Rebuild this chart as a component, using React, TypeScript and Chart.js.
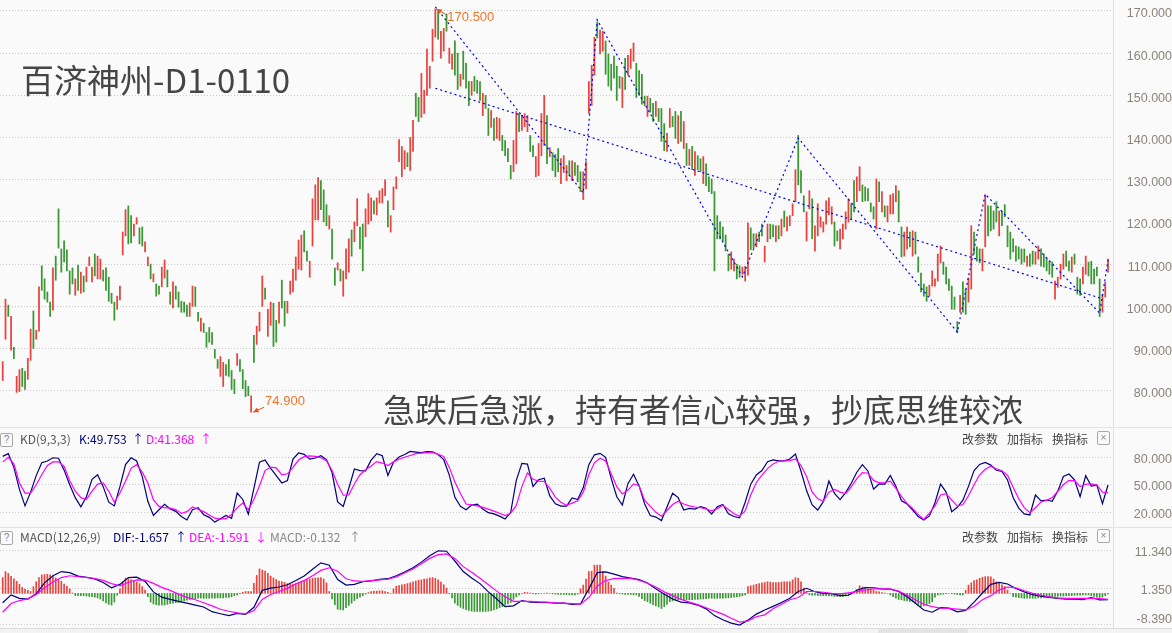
import React, { useEffect, useRef } from "react";
import { Chart, registerables } from "chart.js";
Chart.register(...registerables);

// ---------------- DATA ----------------
// daily candles: high / low / direction (R = up day, G = down day)
const candleHigh = [
  86.9,101.7,100.3,97.6,90.3,83.4,85.0,85.3,84.6,87.7,
  94.6,98.9,94.3,104.6,109.6,106.5,103.4,101.0,109.1,111.9,
  123.1,113.6,115.5,113.4,108.4,109.1,106.5,109.8,108.1,107.2,
  109.3,111.7,109.3,112.4,111.9,111.2,108.6,109.1,106.9,103.1,
  101.0,102.4,104.8,117.6,122.9,123.8,121.5,119.5,121.0,118.6,
  118.8,115.3,111.7,110.0,107.7,105.3,104.8,109.3,111.0,108.6,
  103.4,105.8,104.8,103.4,101.2,101.0,100.3,100.8,104.8,104.6,
  98.6,97.2,96.0,93.8,95.0,93.8,89.8,87.4,88.1,86.7,
  86.2,87.4,84.8,82.7,88.8,87.4,85.0,82.4,81.0,78.8,
  93.1,95.3,98.6,107.2,104.3,99.3,101.0,100.7,96.7,101.0,
  106.2,101.2,101.2,106.0,108.8,111.7,115.7,116.9,117.9,113.1,
  110.7,125.5,128.8,130.5,129.8,127.6,124.1,121.5,118.3,109.1,
  110.3,108.8,108.4,113.6,116.0,118.1,120.0,125.5,118.8,119.5,
  123.1,126.7,125.7,125.0,125.7,127.4,127.9,130.0,125.0,121.5,
  128.3,130.7,139.5,137.9,136.9,136.4,140.0,144.1,150.5,149.5,
  155.2,151.2,161.0,156.9,165.7,170.5,170.2,165.2,165.9,169.3,
  161.2,159.8,162.9,160.0,155.0,160.5,157.6,153.3,153.3,154.5,
  153.6,153.3,150.5,150.0,146.9,146.4,144.5,144.8,144.5,140.5,
  139.3,137.4,133.4,139.3,146.2,145.7,145.2,145.7,145.2,140.5,
  138.1,135.5,138.6,145.7,150.0,145.2,137.6,136.4,136.0,137.4,
  135.0,135.7,133.4,134.5,134.5,134.1,133.4,131.9,131.9,134.3,
  153.3,157.1,163.8,167.4,165.5,165.2,162.9,159.8,157.4,159.3,
  156.9,154.5,154.3,158.8,159.5,161.0,162.4,157.6,155.9,155.0,
  149.8,149.8,149.3,148.1,148.6,146.9,146.9,143.3,141.0,146.9,
  145.0,146.2,145.2,146.2,143.8,138.6,137.2,137.9,136.7,135.7,
  135.0,135.5,133.8,130.7,130.2,127.2,121.5,120.0,118.8,116.9,
  112.4,112.9,111.2,110.0,109.6,109.3,109.5,119.8,118.6,117.2,
  117.2,117.6,119.5,114.3,119.5,119.5,119.3,119.1,119.1,120.7,
  122.6,121.2,121.5,124.3,132.4,140.5,132.2,126.2,122.4,127.4,
  125.5,119.1,124.3,121.2,120.0,125.0,125.7,123.6,120.0,117.9,
  118.3,119.5,122.4,125.5,124.3,129.8,130.7,133.1,128.8,128.3,
  127.9,124.5,123.6,130.2,129.5,127.2,123.8,123.8,126.4,126.7,
  128.6,127.4,118.8,117.6,118.8,117.6,117.9,117.6,111.7,107.9,
  105.3,104.6,105.0,108.4,106.5,112.4,114.3,110.5,109.3,106.5,
  104.8,102.2,96.4,102.6,105.8,104.1,106.7,119.1,117.6,114.1,
  113.6,113.6,126.4,123.8,123.8,122.6,124.8,122.6,122.6,124.1,
  119.1,117.6,116.0,114.3,114.1,113.6,113.6,111.9,112.4,113.1,
  112.9,114.3,113.6,112.4,111.5,110.7,110.5,106.0,106.9,110.0,
  112.4,113.1,110.7,111.7,112.4,106.9,106.5,109.3,111.9,110.5,
  110.7,108.8,109.3,106.5,102.9,105.8,111.2
];
const candleLow = [
  82.4,92.2,97.6,89.6,87.6,79.6,79.8,81.0,80.3,82.7,
  87.2,90.0,92.2,94.1,103.8,101.7,101.0,97.6,99.1,106.2,
  113.8,108.1,110.5,108.4,102.9,105.3,102.6,103.8,103.1,103.4,
  105.8,109.6,105.8,107.2,106.5,106.5,106.0,103.8,101.2,100.7,
  96.7,99.3,101.5,112.2,116.7,114.8,115.0,116.7,119.5,114.8,
  114.3,112.9,109.6,106.5,105.8,102.4,102.9,104.6,106.7,104.6,
  100.5,99.6,101.7,99.8,98.6,98.6,97.6,97.6,100.0,100.0,
  96.5,94.1,93.8,90.3,91.5,91.0,87.7,85.3,83.4,81.0,
  83.6,83.4,80.3,79.3,86.0,84.6,80.5,78.6,78.8,74.9,
  86.7,91.0,94.1,100.0,101.7,92.9,95.5,90.5,91.5,96.0,
  99.6,95.3,98.4,102.9,103.4,106.2,108.8,108.6,112.9,110.7,
  106.9,114.3,120.5,120.5,122.9,120.0,119.1,118.3,111.2,105.0,
  108.6,106.0,102.4,106.5,108.1,111.9,115.3,119.1,113.6,108.4,
  116.5,119.5,120.3,121.9,121.7,124.5,124.5,126.2,118.8,117.6,
  122.9,127.9,134.3,130.7,132.6,133.1,132.2,136.7,145.0,143.8,
  144.8,145.7,150.0,151.7,158.1,163.8,163.3,158.8,160.5,165.2,
  157.6,156.2,154.8,151.4,152.2,153.8,151.7,147.6,150.0,151.0,
  150.5,148.8,145.2,146.9,140.5,142.4,139.3,139.8,139.3,136.9,
  135.7,134.3,130.2,131.9,133.8,141.4,141.7,142.6,141.4,136.7,
  135.5,130.7,131.0,135.7,138.1,133.8,135.5,132.2,130.7,131.9,
  129.1,131.7,129.8,131.0,129.8,131.0,129.5,127.2,125.3,127.9,
  145.7,147.6,154.8,163.6,159.8,160.5,155.0,152.2,151.2,154.1,
  148.8,151.7,147.1,151.4,154.8,156.4,158.1,149.5,150.0,147.9,
  147.6,145.0,146.0,143.8,145.0,143.8,139.1,136.9,136.7,142.4,
  142.6,139.8,138.6,139.1,137.4,133.4,133.4,132.4,131.0,132.4,
  131.9,129.1,128.6,127.2,126.7,108.4,116.0,116.0,115.5,113.1,
  108.4,108.8,108.4,106.5,106.9,107.6,106.0,107.4,113.4,113.8,
  114.1,115.3,116.7,110.5,115.3,116.0,116.5,115.3,116.0,116.7,
  118.8,117.9,119.1,121.5,124.8,128.8,126.9,122.4,115.5,123.1,
  116.0,113.1,116.7,118.8,117.6,119.5,121.7,119.5,114.3,115.5,
  113.6,116.0,118.3,120.0,120.7,122.4,124.8,127.4,124.8,125.0,
  125.0,122.4,120.7,118.3,124.8,122.4,121.2,120.0,121.9,121.9,
  124.8,120.0,111.7,111.9,113.6,114.1,111.9,112.4,108.1,103.4,
  102.4,101.2,102.4,104.8,104.8,106.0,110.3,107.6,105.3,103.8,
  99.3,99.3,93.8,98.6,98.6,98.1,101.0,104.1,112.4,110.7,
  110.3,108.4,114.1,116.7,117.9,118.3,120.0,116.7,119.1,121.2,
  114.1,111.2,112.9,110.7,111.2,110.0,110.5,109.5,109.5,110.0,
  110.0,111.2,109.5,109.3,108.4,107.6,106.9,101.7,104.5,106.5,
  108.8,109.5,108.4,108.1,110.0,102.9,102.6,105.3,107.6,107.2,
  105.3,105.3,107.2,97.6,98.6,102.2,108.1
];
const candleDir =
  "RRGRGRRGGR" + "RGRRGGGGRG" + "GGGGGGRGRG" + "RRRGRRGGGG" + "GRRRRGGRRG" +
  "GRRGRGGRRG" + "GRGGGGGRRG" + "GRGGGGGGRR" + "GGGGRGGGGR" + "GRRRGRRGGR" +
  "GGRRRRRRGG" + "RRRRGGGRGG" + "RGRRRGRRGG" + "RRRGRRRRGR" + "RRRRRGRRGG" +
  "RRRRRRGRRG" + "RRGGRGGGRG" + "GGRGGRGRRG" + "GGGRRGRRRG" + "GRRRRGRGGG" +
  "RRRGRGGGRR" + "RRRGRRGGGG" + "GGRGRRRGGG" + "GRGGRGGGRR" + "GGRGRGRGRG" +
  "GRGGGGGGGG" + "GRRGGRRRGG" + "RGGRRGGRGR" + "GRRRRGGGRR" + "GRRRRRRRGG" +
  "RRRRGGRRGG" + "GGGRGRGRRR" + "RGGRRGRGGG" + "GGRRRRRGGG" + "GGGRGGRRGG" +
  "GRRGGGGRGG" + "GGGGGGGRGG" + "RRGGGGGRRR" + "RGGRGGGRRG" + "GGGGRRR";

// KD(9,3,3): K and D, one reading every 2 days
const kValues = [
  81,84,69,45,27,42,60,74,76,79.5,
  79,66,50,36,26,37,56,61,48,31,
  27,48,72,79.5,76,59,32,16.5,22.8,28.7,
  23.7,21,15.5,11.6,22.8,25,17.4,14.5,9.3,13,
  16.5,13.4,40.9,34,18,46,74.7,77,68,60,
  52,54.7,78,84.7,83.2,78,79.2,81.7,77.5,63.4,
  31.4,26.3,46.2,67.2,65.5,65.3,76.9,84,81.7,60.2,
  74.7,80.3,83,86.4,85.7,85.1,86.1,86,83.1,77.4,
  60.6,36.3,26.5,22.8,27.9,29,23.6,19.6,18.2,15.8,
  12.7,20,54.9,73.4,72.6,48.3,55.5,57.2,37.9,29.2,
  26.7,26.8,35.7,34,47,72,82.7,84.3,80,57,
  37,28,51.2,61.5,48.8,29,16.4,14.8,11,25.8,
  40.8,36,22.5,24.3,23.5,26.2,24.3,18,26,28.6,
  18.4,15.4,14,31,50.7,60.7,65.5,75.2,77.1,76,
  76.2,78.2,83.6,64.8,43.7,28,22.5,31.6,54,40.7,
  33.9,41.5,51.6,63.7,71.9,64.8,45.3,50.9,50.8,60.3,
  48.3,32.6,29,22.5,15.3,11.5,16.1,30.4,50.8,42,
  20.7,25.5,33.3,48.3,65.6,72.2,74.4,71.5,65.8,64.5,
  55.2,36.1,24.6,18.2,17.1,38.9,32.4,33.4,32,43.1,
  59,61.7,55.5,37.1,60,48.6,49.7,29.5,49.8
];
const dValues = [
  75,80,73,52,41,41,50,61,71,75,
  75,70,54.5,43,36,34,43,50.7,52,43,
  31,41,54,68,72,64,52,33.5,26.5,25,
  24.6,23,18.8,20.7,25.8,23.3,20.7,17,13.6,12.6,
  13,17.5,25,30,23,34,49,65.5,69.3,68.5,
  60.8,62,69,77,80.7,81.5,81,79.5,76.4,65.6,
  50.5,38.6,39,50.8,61,66.4,70.5,75.3,73.7,71,
  75,77.9,80.1,82,84,84.6,85,85.4,83.2,80.9,
  69,53,40.5,29,28,27,25.4,23.5,21.3,19,
  16.4,19,27.5,48,63,56,54,53.6,46,36.5,
  31,27.7,30,32.5,42,61,74,78.9,76,62,
  48,40,44,51,49,33,26.5,20,15.6,22,
  28.5,32,29,27,25.8,25,23.6,21.5,24,27.6,
  23,18.5,15.7,21.5,39,52.5,60.5,67.6,72.8,75.7,
  76,76.3,78.3,71,59,42,34.7,32,42,45,
  42,40.5,47.7,56.7,63.3,62.6,54.8,52.2,52.5,54,
  46,37.4,29.4,24.2,17.5,12.2,19,27,38.9,40.3,
  33.2,26.7,28.5,38,50,60.9,67,70.3,67.5,65.3,
  60.4,47.3,34.7,25.1,19.5,25,31.3,33,36,42.8,
  50,54.8,54.5,48.2,50.6,50.9,49.8,42,41.4
];

// MACD(12,26,9): DIF and DEA, one reading every 3 days
const difValues = [
  -2.5,-0.4,-1.3,-1.5,-0.1,2.8,4.7,5.8,5.5,4.6,
  4.25,3.85,2.9,1.5,2.4,4.2,4.3,3.2,0.4,-1.0,
  -1.6,-2.1,-2.6,-3.1,-3.6,-4.85,-5.4,-5.9,-5.3,-5.55,
  -3.7,0.8,1.4,1.7,2.3,3.4,4.6,6.4,8.1,7.5,
  3.7,2.2,2.4,3.1,3.3,3.7,3.9,4.7,5.7,6.8,
  8.3,10.0,11.3,11.2,8.6,5.8,4.1,2.6,0.4,-1.5,
  -3.5,-3.3,-1.9,-2.3,-2.4,-2.4,-2.6,-2.6,-2.9,-2.8,
  1.2,5.5,5.7,5.1,4.45,4.05,3.65,2.75,1.25,-0.2,
  -1.5,-2.3,-2.5,-3.1,-4.1,-5.9,-7.0,-7.9,-8.4,-7.1,
  -5.5,-4.4,-3.45,-2.4,-1.3,0.5,1.35,0.45,0.0,-0.1,
  -0.6,-0.5,0.85,1.55,1.5,1.2,1.1,0.5,-0.9,-2.6,
  -4.4,-5.0,-3.8,-3.9,-4.9,-4.5,-2.3,0.1,2.4,2.9,
  2.5,1.3,0.4,-0.35,-0.75,-1.05,-1.35,-1.5,-1.5,-1.65,
  -1.1,-1.7,-1.66
];
const deaValues = [
  -5.0,-2.7,-1.9,-1.45,-0.3,1.5,3.0,4.2,4.68,4.42,
  4.25,3.95,3.45,2.6,2.0,2.9,3.6,3.5,2.65,1.6,
  0.8,-0.2,-1.05,-1.7,-2.5,-3.3,-4.2,-4.75,-5.15,-5.45,
  -4.6,-1.6,-0.3,0.5,1.4,2.5,3.4,4.7,6.1,6.8,
  5.9,3.9,3.3,3.2,3.4,3.6,3.75,4.4,5.4,6.5,
  7.9,9.3,10.3,10.5,9.3,7.1,5.6,4.0,2.3,0.6,
  -0.9,-2.1,-2.1,-2.1,-2.25,-2.35,-2.5,-2.6,-2.7,-2.85,
  -1.1,1.9,3.4,3.9,4.0,4.0,3.5,2.7,1.7,0.4,
  -0.6,-1.6,-2.3,-3.0,-3.8,-4.7,-5.5,-6.6,-7.6,-7.3,
  -6.2,-5.7,-4.1,-2.9,-1.7,-1.1,0.5,0.5,0.3,0.0,
  -0.15,0.15,0.45,0.9,1.2,1.2,1.2,0.6,-0.5,-1.7,
  -2.9,-3.5,-3.9,-4.0,-4.2,-4.4,-3.4,-1.7,-0.6,0.95,
  1.7,1.45,0.7,0.03,-0.5,-0.95,-1.2,-1.3,-1.3,-1.3,
  -1.3,-1.4,-1.59
];
// MACD histogram, one bar per day
const macdHist = [
  4.2,5.8,5.3,4.5,3.9,3.2,2.4,1.6,1.1,0.8,
  0.5,1.8,3.1,4.2,4.9,5.0,5.1,4.9,4.5,4.1,
  3.7,3.2,2.5,1.9,1.2,0.1,-0.6,-0.6,-0.6,-0.6,
  -0.7,-0.8,-0.9,-1.0,-1.2,-1.5,-2.0,-2.5,-2.9,-3.1,
  -2.3,-0.5,1.2,3.1,4.0,3.9,3.7,3.5,3.0,2.6,
  1.8,0.9,-0.9,-2.3,-2.8,-3.0,-3.1,-3.1,-3.1,-2.9,
  -2.7,-2.6,-2.5,-2.4,-2.2,-2.0,-1.8,-1.6,-1.5,-1.4,
  -1.3,-1.3,-1.3,-1.3,-1.3,-1.3,-1.3,-1.2,-1.2,-1.2,
  -1.1,-1.1,-0.9,-0.6,-0.4,-0.1,0.3,0.5,0.5,0.5,
  2.7,4.8,6.5,6.2,5.9,5.3,4.6,4.1,3.7,3.3,
  3.1,2.9,2.6,2.4,2.5,2.7,3.0,3.3,3.5,3.7,
  3.8,4.0,4.1,4.1,4.2,3.8,2.8,0.5,-1.5,-3.0,
  -4.2,-4.3,-4.4,-3.8,-3.2,-2.6,-1.9,-1.4,-1.0,-0.6,
  -0.2,0.2,0.5,0.6,0.6,0.7,0.7,0.5,0.3,0.0,
  1.2,1.9,2.1,2.3,2.4,2.6,2.8,3.1,3.3,3.5,
  3.6,3.8,3.9,4.1,4.2,4.0,3.6,3.0,2.3,1.4,
  -0.1,-1.2,-2.6,-3.2,-3.7,-4.0,-4.3,-4.5,-4.7,-4.8,
  -4.8,-4.8,-4.8,-4.8,-4.7,-4.6,-4.4,-4.1,-3.8,-3.5,
  -3.1,-2.8,-2.4,-1.6,-0.9,-0.4,0.0,0.3,0.2,0.1,
  -0.1,-0.2,-0.1,0.0,0.0,0.1,0.0,-0.1,-0.2,-0.3,
  -0.3,-0.3,-0.3,-0.4,-0.4,-0.4,-0.2,1.2,2.2,3.8,
  5.8,5.9,7.5,7.5,7.5,5.8,4.6,3.0,2.2,1.35,
  0.1,-0.1,-0.2,-0.3,-0.3,-0.3,-0.4,-0.4,-0.8,-1.4,
  -1.9,-2.2,-2.6,-3.0,-3.3,-3.6,-4.0,-3.5,-2.9,-2.2,
  -2.0,-1.8,-1.7,-1.7,-1.7,-1.7,-1.7,-1.7,-1.6,-1.6,
  -1.5,-1.5,-1.4,-1.3,-1.3,-1.3,-1.3,-1.3,-1.3,-1.2,
  -1.2,-1.1,-1.0,-0.9,-0.8,-0.6,-0.4,1.8,2.0,2.2,
  2.4,2.6,2.8,2.9,3.1,3.0,2.9,2.9,2.9,3.0,
  3.1,3.1,3.1,3.6,4.2,4.0,3.1,1.4,0.4,-0.4,
  -0.5,-0.5,-0.6,-0.6,-0.6,-0.6,-0.7,-0.7,-0.8,-0.8,
  -0.9,-0.9,-0.7,-0.5,-0.2,0.0,1.0,2.0,1.7,1.4,
  1.2,1.0,0.8,0.5,0.4,0.2,0.1,0.0,-0.4,-0.9,
  -1.3,-1.6,-1.7,-1.9,-2.0,-2.1,-2.2,-2.6,-3.2,-3.5,
  -3.3,-3.1,-2.7,-2.2,-1.0,-0.4,-0.3,-0.2,-0.1,0.0,
  -0.1,-0.2,-0.3,-0.4,-0.4,0.8,2.2,2.8,3.4,3.6,
  4.0,4.3,4.45,4.45,4.4,3.8,3.1,2.7,2.3,1.8,
  0.9,0.0,-0.9,-1.0,-1.1,-1.2,-1.3,-1.3,-1.3,-1.3,
  -1.3,-1.2,-1.2,-1.1,-1.1,-1.0,-0.9,-0.8,-0.8,-0.7,
  -0.7,-0.6,-0.6,-0.6,-0.5,-0.5,-0.5,-0.4,-0.4,-0.4,
  -0.6,-0.8,-1.0,-1.1,-1.0,-0.6,-0.13
];

// hand-drawn wave lines (day index / price)
const zigzagDays = [155, 208, 213, 265, 285, 342, 352, 393, 396];
const zigzagPrices = [171.0, 126.9, 167.9, 107.0, 139.9, 93.9, 126.6, 98.4, 111.0];
const trendDays = [155, 393];
const trendPrices = [151.7, 102.0];

// axis ticks
const priceTicks = [80, 90, 100, 110, 120, 130, 140, 150, 160, 170];
const kdTicks = [20, 50, 80];
const macdTicks = [-8.39, 1.35, 11.34];

// texts
const titleText = "百济神州-D1-0110";
const noteText = "急跌后急涨，持有者信心较强，抄底思维较浓";

// ---------------- STYLE ----------------
const AXIS_W = 59;
const X_MIN = -0.967;
const X_MAX = 397.78;
const RED = "#e8433f";
const GREEN = "#3a9834";
const NAVY = "#00007a";
const MAGENTA = "#ff00ff";
const GRID = "#c8c8c8";
const TICK_COLOR = "#8a847c";
const ORANGE = "#f07528";
const CJK = "'Noto Sans CJK SC', 'Noto Sans', sans-serif";

function yAxis(min: number, max: number, ticks: number[], labelOffset: number): any {
  return {
    position: "right",
    min,
    max,
    beginAtZero: false,
    afterFit: (s: any) => {
      s.width = AXIS_W;
      s.paddingTop = 0;
      s.paddingBottom = 0;
    },
    afterBuildTicks: (s: any) => {
      s.ticks = ticks.map((v) => ({ value: v }));
    },
    grid: { color: GRID, drawTicks: false, lineWidth: 1 },
    border: { display: false, dash: [1, 2] },
    ticks: {
      color: TICK_COLOR,
      font: { family: "'Liberation Sans', Arial, sans-serif", size: 12.5 },
      padding: 7,
      crossAlign: "far",
      labelOffset,
      autoSkip: false,
      callback: (v: any) => Number(v).toFixed(3),
    },
  };
}

const xAxis: any = {
  type: "linear",
  min: X_MIN,
  max: X_MAX,
  display: false,
  offset: false,
  grid: { display: false, offset: false },
};

const clampLabels = {
  id: "clampLabels",
  beforeDraw(chart: any) {
    const s = chart.scales.y;
    if (!s || !s.getLabelItems) return;
    try {
      const items = s.getLabelItems(chart.chartArea);
      for (const it of items) {
        const tr = it.options && it.options.translation;
        if (tr && tr[1] > chart.height - 8) tr[1] = chart.height - 8;
      }
    } catch (e) {}
  },
};

const extremes = {
  id: "extremes",
  afterDatasetsDraw(chart: any) {
    const { ctx } = chart;
    const x = chart.scales.x;
    const y = chart.scales.y;
    let hi = 0;
    let lo = 0;
    candleHigh.forEach((v, i) => {
      if (v > candleHigh[hi]) hi = i;
    });
    candleLow.forEach((v, i) => {
      if (v < candleLow[lo]) lo = i;
    });
    const drawMark = (px: number, py: number, sx: number, sy: number, tx: number, ty: number, label: string) => {
      ctx.save();
      ctx.strokeStyle = "#e8561c";
      ctx.fillStyle = "#e8561c";
      ctx.lineWidth = 1;
      ctx.beginPath();
      ctx.moveTo(sx, sy);
      ctx.lineTo(px, py);
      ctx.stroke();
      const ang = Math.atan2(py - sy, px - sx);
      const L = 6;
      ctx.beginPath();
      ctx.moveTo(px, py);
      ctx.lineTo(px - L * Math.cos(ang - 0.45), py - L * Math.sin(ang - 0.45));
      ctx.lineTo(px - L * Math.cos(ang + 0.45), py - L * Math.sin(ang + 0.45));
      ctx.closePath();
      ctx.fill();
      ctx.fillStyle = ORANGE;
      ctx.font = "13px 'Liberation Sans', Arial, sans-serif";
      ctx.textAlign = "left";
      ctx.textBaseline = "middle";
      ctx.fillText(label, tx, ty);
      ctx.restore();
    };
    const hx = x.getPixelForValue(hi);
    const hy = y.getPixelForValue(candleHigh[hi]);
    drawMark(hx + 1, hy, hx + 11, hy + 6, hx + 12, hy + 9, candleHigh[hi].toFixed(3));
    const lx = x.getPixelForValue(lo);
    const ly = y.getPixelForValue(candleLow[lo]);
    drawMark(lx + 2, ly, lx + 13, ly - 5, lx + 14, ly - 10.5, candleLow[lo].toFixed(3));
  },
};

const baseOptions = (yScale: any): any => ({
  animation: false,
  responsive: false,
  maintainAspectRatio: false,
  layout: { padding: 0 },
  plugins: { legend: { display: false }, tooltip: { enabled: false } },
  scales: { x: xAxis, y: yScale },
});

const lineDs = (data: any[], color: string, width: number, dash?: number[]) => ({
  type: "line",
  data,
  borderColor: color,
  borderWidth: width,
  borderDash: dash || [],
  pointRadius: 0,
  fill: false,
  tension: 0,
  order: 0,
});

export default function App() {
  const mainRef = useRef<HTMLCanvasElement>(null);
  const kdRef = useRef<HTMLCanvasElement>(null);
  const macdRef = useRef<HTMLCanvasElement>(null);

  useEffect(() => {
    document.body.style.margin = "0";
    const charts: Chart[] = [];

    const candles = candleHigh.map((h, i) => ({ x: i, y: [candleLow[i], h] }));
    const candleColors = candleHigh.map((_, i) => (candleDir[i] === "R" ? RED : GREEN));

    charts.push(
      new Chart(mainRef.current as HTMLCanvasElement, {
        type: "bar",
        data: {
          datasets: [
            lineDs(zigzagDays.map((d, j) => ({ x: d, y: zigzagPrices[j] })), "#0000ff", 1.2, [2, 3]),
            lineDs(trendDays.map((d, j) => ({ x: d, y: trendPrices[j] })), "#0000ff", 1.2, [2, 3]),
            {
              type: "bar",
              data: candles,
              backgroundColor: candleColors,
              borderWidth: 0,
              barThickness: 1.1,
              order: 1,
            },
          ] as any,
        },
        options: baseOptions(yAxis(71.398, 172.607, priceTicks, 3)),
        plugins: [extremes],
      } as any)
    );

    charts.push(
      new Chart(kdRef.current as HTMLCanvasElement, {
        type: "line",
        data: {
          datasets: [
            lineDs(dValues.map((v, j) => ({ x: j * 2, y: v })), MAGENTA, 1.2),
            lineDs(kValues.map((v, j) => ({ x: j * 2, y: v })), NAVY, 1.2),
          ] as any,
        },
        options: baseOptions(yAxis(3.96, 113.05, kdTicks, 2)),
      } as any)
    );

    charts.push(
      new Chart(macdRef.current as HTMLCanvasElement, {
        type: "bar",
        data: {
          datasets: [
            lineDs(deaValues.map((v, j) => ({ x: j * 3, y: v })), MAGENTA, 1.2),
            lineDs(difValues.map((v, j) => ({ x: j * 3, y: v })), NAVY, 1.2),
            {
              type: "bar",
              data: macdHist.map((v, i) => ({ x: i, y: v })),
              backgroundColor: macdHist.map((v) => (v >= 0 ? RED : GREEN)),
              borderWidth: 0,
              barThickness: 1,
              order: 1,
            },
          ] as any,
        },
        options: baseOptions(yAxis(-9.19, 17.63, macdTicks, 2)),
        plugins: [clampLabels],
      } as any)
    );

    return () => charts.forEach((c) => c.destroy());
  }, []);

  const abs = (left: number, top: number, extra: any = {}) => ({
    position: "absolute" as const,
    left,
    top,
    whiteSpace: "nowrap" as const,
    ...extra,
  });
  const hdr = { fontSize: 12, lineHeight: "14px", fontFamily: CJK };
  const box = (left: number, top: number, ch: string) => (
    <div
      style={abs(left, top, {
        width: 11,
        height: 12,
        border: "1px solid #a8a8a8",
        borderRadius: 2,
        fontSize: 10,
        lineHeight: "12px",
        textAlign: "center",
        color: "#888",
        fontFamily: "'Liberation Sans', Arial, sans-serif",
        background: "#fafafa",
      })}
    >
      {ch}
    </div>
  );
  const buttons = (top: number) => (
    <>
      <span style={abs(962, top, { ...hdr, color: "#444" })}>改参数</span>
      <span style={abs(1007, top, { ...hdr, color: "#444" })}>加指标</span>
      <span style={abs(1052, top, { ...hdr, color: "#444" })}>换指标</span>
      {box(1097, top - 1, "×")}
    </>
  );

  return (
    <div
      style={{
        position: "fixed",
        left: 0,
        top: 0,
        width: 1172,
        height: 633,
        background: "#fafafa",
        overflow: "hidden",
        fontFamily: CJK,
      }}
    >
      <canvas ref={mainRef} width={1172} height={427} style={{ position: "absolute", left: 0, top: 0, width: 1172, height: 427 }} />
      <canvas ref={kdRef} width={1172} height={100} style={{ position: "absolute", left: 0, top: 427, width: 1172, height: 100 }} />
      <canvas ref={macdRef} width={1172} height={101} style={{ position: "absolute", left: 0, top: 527, width: 1172, height: 101 }} />

      {/* panel frame lines */}
      <div style={abs(1113, 0, { width: 1, height: 633, background: "#e0e0e0" })} />
      <div style={abs(0, 427, { width: 1172, height: 1, background: "#e3e3e3" })} />
      <div style={abs(0, 527, { width: 1172, height: 1, background: "#e3e3e3" })} />
      <div style={abs(0, 628, { width: 1172, height: 1, background: "#dcdcdc" })} />
      <div style={abs(0, 629, { width: 1172, height: 4, background: "#f3f3f3" })} />
      <div style={abs(878, 629, { width: 90, height: 4, background: "#e4e4e4" })} />

      {/* big texts */}
      <div style={abs(21, 59, { fontSize: 33, lineHeight: "40px", color: "#454545", fontFamily: CJK })}>{titleText}</div>
      <div style={abs(383, 388, { fontSize: 32, lineHeight: "40px", color: "#454545", fontFamily: CJK })}>{noteText}</div>

      {/* KD header */}
      {box(0, 433, "?")}
      <span style={abs(20, 432, { ...hdr, color: "#555" })}>KD(9,3,3)</span>
      <span style={abs(79, 432, { ...hdr, color: NAVY })}>K:49.753</span>
      <span style={abs(132, 432, { ...hdr, color: NAVY })}>↑</span>
      <span style={abs(146, 432, { ...hdr, color: MAGENTA })}>D:41.368</span>
      <span style={abs(200, 432, { ...hdr, color: MAGENTA })}>↑</span>
      {buttons(432)}

      {/* MACD header */}
      {box(0, 531, "?")}
      <span style={abs(20, 530, { ...hdr, color: "#555" })}>MACD(12,26,9)</span>
      <span style={abs(113, 530, { ...hdr, color: NAVY })}>DIF:-1.657</span>
      <span style={abs(175, 530, { ...hdr, color: NAVY })}>↑</span>
      <span style={abs(189, 530, { ...hdr, color: MAGENTA })}>DEA:-1.591</span>
      <span style={abs(255, 530, { ...hdr, color: MAGENTA })}>↓</span>
      <span style={abs(270, 530, { ...hdr, color: "#888" })}>MACD:-0.132</span>
      <span style={abs(349, 530, { ...hdr, color: "#888" })}>↑</span>
      {buttons(530)}
    </div>
  );
}
